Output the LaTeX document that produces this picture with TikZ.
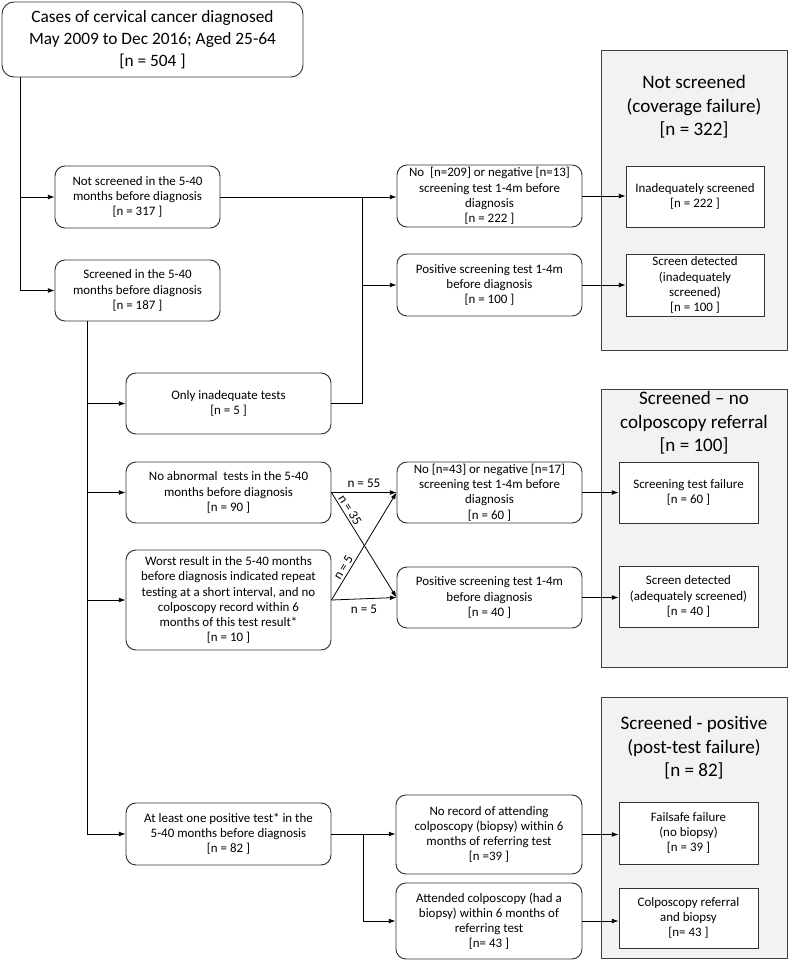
\documentclass[tikz,border=0pt]{standalone}
\usepackage{fontspec}
\setmainfont{Carlito}
\usetikzlibrary{arrows.meta}
\newcommand{\mkbox}[6]{\node[#1, minimum width={(#4-#2)*0.75pt}, minimum height={(#5-#3)*0.75pt}] (#6) at ({(#2+#4)/2},{(#3+#5)/2})}
\begin{document}
\begin{tikzpicture}[x=0.75pt,y=-0.75pt,
  lbl/.style={font=\fontsize{9.7}{11.4}\selectfont, align=center},
  rbox/.style={draw=black!80, line width=0.7pt, rounded corners=7.5pt, fill=white, lbl, inner sep=0pt},
  sbox/.style={draw=black!80, line width=0.7pt, fill=white, lbl, inner sep=0pt},
  panel/.style={draw=black!75, line width=0.7pt, fill=black!5, inner sep=0pt},
  ptitle/.style={font=\fontsize{14.3}{17.5}\selectfont, align=center},
  arr/.style={-{Latex[length=5pt,width=3.6pt]}, line width=0.6pt},
  ln/.style={line width=0.6pt},
  nlab/.style={font=\fontsize{9.9}{11}\selectfont, inner sep=1.5pt}
]
\useasboundingbox (0,0) rectangle (789,964);

% panels
\mkbox{panel}{601}{50}{787}{350}{p1} {};
\mkbox{panel}{601}{389}{787}{667}{p2} {};
\mkbox{panel}{601}{697}{787}{958}{p3} {};
\node[ptitle] (t1) at (694,107) {Not screened\\(coverage failure)\\{[}n = 322]};
\node[ptitle] (t2) at (694,423) {Screened -- no\\colposcopy referral\\{[}n = 100]};
\node[ptitle] (t3) at (694,748) {Screened - positive\\(post-test failure)\\{[}n = 82]};

% top box
\mkbox{rbox, rounded corners=9pt, font=\fontsize{13}{16.5}\selectfont}{2}{2}{303}{77}{top} {Cases of cervical cancer diagnosed\\May 2009 to Dec 2016; Aged 25-64\\{[}n = 504 ]};

% left column
\mkbox{rbox}{55}{166}{220}{228}{ns} {Not screened in the 5-40\\months before diagnosis\\{[}n = 317 ]};
\mkbox{rbox}{55}{260}{220}{321}{sc} {Screened in the 5-40\\months before diagnosis\\{[}n = 187 ]};
\mkbox{rbox}{126}{373}{331}{434}{oi} {Only inadequate tests\\{[}n = 5 ]};
\mkbox{rbox}{126}{462}{331}{523}{na} {No abnormal~ tests in the 5-40\\months before diagnosis\\{[}n = 90 ]};
\mkbox{rbox}{126}{550}{331}{650}{wr} {Worst result in the 5-40 months\\before diagnosis indicated repeat\\testing at a short interval, and no\\colposcopy record within 6\\months of this test result*\\{[}n = 10 ]};
\mkbox{rbox}{126}{803}{331}{865}{al} {At least one positive test* in the\\5-40 months before diagnosis\\{[}n = 82 ]};

% middle column
\mkbox{rbox}{397}{165}{582}{227}{no1} {No~ [n=209] or negative [n=13]\\screening test 1-4m before\\diagnosis\\{[}n = 222 ]};
\mkbox{rbox}{397}{254}{582}{316}{pos1} {Positive screening test 1-4m\\before diagnosis\\{[}n = 100 ]};
\mkbox{rbox}{397}{462}{582}{523}{no2} {No [n=43] or negative [n=17]\\screening test 1-4m before\\diagnosis\\{[}n = 60 ]};
\mkbox{rbox}{397}{567}{582}{628}{pos2} {Positive screening test 1-4m\\before diagnosis\\{[}n = 40 ]};
\mkbox{rbox}{396}{795}{582}{874}{nr} {No record of attending\\colposcopy (biopsy) within 6\\months of referring test\\{[}n =39 ]};
\mkbox{rbox}{396}{883}{582}{959}{at} {Attended colposcopy (had a\\biopsy) within 6 months of\\referring test\\{[}n= 43 ]};

% right inner boxes
\mkbox{sbox}{626}{166}{764}{227}{ia} {Inadequately screened\\{[}n = 222 ]};
\mkbox{sbox}{626}{254}{764}{316}{sd1} {Screen detected\\(inadequately\\screened)\\{[}n = 100 ]};
\mkbox{sbox}{619}{462}{758}{523}{stf} {Screening test failure\\{[}n = 60 ]};
\mkbox{sbox}{619}{566}{758}{627}{sd2} {Screen detected\\(adequately screened)\\{[}n = 40 ]};
\mkbox{sbox}{619}{802}{758}{864}{ff} {Failsafe failure\\(no biopsy)\\{[}n = 39 ]};
\mkbox{sbox}{619}{888}{758}{948}{cr} {Colposcopy referral\\and biopsy\\{[}n= 43 ]};

% connectors
\coordinate (tr) at (20,0);
\draw[arr] (top.south -| tr) |- (ns.west);
\draw[arr] (top.south -| tr) |- (sc.west);
\coordinate (tr2) at (87,0);
\draw[arr] (sc.south -| tr2) |- (oi.west);
\draw[arr] (sc.south -| tr2) |- (na.west);
\draw[arr] (sc.south -| tr2) |- (wr.west);
\draw[arr] (sc.south -| tr2) |- (al.west);

\coordinate (j1) at (362,0);
\draw[arr] (ns.east) -- (ns.east -| no1.west);
\draw[ln] (oi.east) -| (j1 |- ns.east);
\draw[arr] (j1 |- pos1.west) -- (pos1.west);

\draw[arr] (na.east) -- node[nlab, above=2pt] {n = 55} (na.east -| no2.west);
\draw[arr] (na.east) -- node[nlab, sloped, above, pos=0.2] {n = 35} (pos2.west);
\draw[arr] (wr.east) -- node[nlab, sloped, above, pos=0.27] {n = 5} (no2.west);
\draw[arr] (wr.east) -- node[nlab, below=3pt] {n = 5} (pos2.west);

\coordinate (j2) at (363,0);
\draw[arr] (al.east) -- (al.east -| nr.west);
\draw[arr] (j2 |- al.east) |- (at.west);

\draw[arr] (no1.east) -- (no1.east -| ia.west);
\draw[arr] (pos1.east) -- (sd1.west);
\draw[arr] (no2.east) -- (stf.west);
\draw[arr] (pos2.east) -- (pos2.east -| sd2.west);
\draw[arr] (nr.east) -- (nr.east -| ff.west);
\draw[arr] (at.east) -- (at.east -| cr.west);
\end{tikzpicture}
\end{document}
